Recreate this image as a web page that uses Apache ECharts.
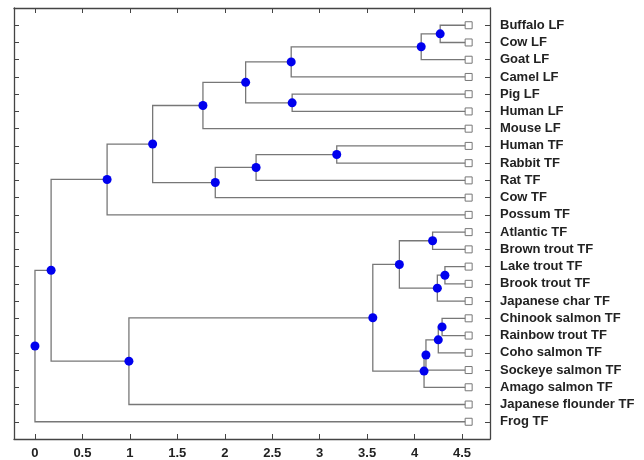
<!DOCTYPE html>
<html>
<head>
<meta charset="utf-8">
<script src="https://cdn.jsdelivr.net/npm/echarts@6/dist/echarts.min.js"></script>
<style>
  html, body { margin: 0; padding: 0; background: #fff; }
  #chart { width: 644px; height: 460px; }
</style>
</head>
<body>
<div id="chart"></div>
<script>
// leaf labels, top to bottom
var leaves = [
    'Buffalo LF', 'Cow LF', 'Goat LF', 'Camel LF', 'Pig LF', 'Human LF', 'Mouse LF',
    'Human TF', 'Rabbit TF', 'Rat TF', 'Cow TF', 'Possum TF',
    'Atlantic TF', 'Brown trout TF', 'Lake trout TF', 'Brook trout TF', 'Japanese char TF',
    'Chinook salmon TF', 'Rainbow trout TF', 'Coho salmon TF', 'Sockeye salmon TF',
    'Amago salmon TF', 'Japanese flounder TF', 'Frog TF'
];
var leafX = 4.57;

// merges: child A, child B (index < 24 = leaf, otherwise internal node 24 + k)
var childA = [0, 24, 25, 4, 26, 28, 7, 30, 31, 29, 33, 12, 14, 36, 35, 17, 39, 40, 41, 38, 43, 34, 45];
var childB = [1, 2, 3, 5, 27, 6, 8, 9, 10, 32, 11, 13, 15, 16, 37, 18, 19, 20, 21, 42, 22, 44, 23];
var height = [4.27, 4.07, 2.70, 2.71, 2.22, 1.77, 3.18, 2.33, 1.90, 1.24, 0.76,
              4.19, 4.32, 4.24, 3.84, 4.29, 4.25, 4.12, 4.10, 3.56, 0.99, 0.17, 0.00];

var xTicks = [0, 0.5, 1, 1.5, 2, 2.5, 3, 3.5, 4, 4.5];

// positions of every node: leaves on rows 1..24, internal nodes at mid of children
var nodeX = [], nodeY = [];
leaves.forEach(function (n, i) { nodeX.push(leafX); nodeY.push(i + 1); });
var links = [], dots = [];
for (var k = 0; k < childA.length; k++) {
    var a = childA[k], b = childB[k], h = height[k];
    var y = (nodeY[a] + nodeY[b]) / 2;
    nodeX.push(h);
    nodeY.push(y);
    links.push({ coords: [[nodeX[a], nodeY[a]], [h, nodeY[a]], [h, nodeY[b]], [nodeX[b], nodeY[b]]] });
    dots.push([h, y]);
}
var rows = leaves.map(function (n, i) { return i + 1; });

var frame = { show: true, onZero: false, lineStyle: { color: '#444', width: 1.3 } };
var tick = { show: true, inside: true, length: 5, lineStyle: { color: '#444' } };
var font = 'Liberation Sans, Arial';

var myChart = echarts.init(document.getElementById('chart'));
var option = {
    animation: false,
    grid: { left: 14, right: 154, top: 8, bottom: 19 },
    xAxis: [{
        type: 'value', min: -0.221, max: 4.795, position: 'bottom',
        splitLine: { show: false },
        axisLine: frame,
        axisTick: Object.assign({ customValues: xTicks }, tick),
        axisLabel: {
            customValues: xTicks, margin: 8,
            color: '#222', fontSize: 13, fontWeight: 'bold', fontFamily: font
        }
    }, {
        type: 'value', min: -0.221, max: 4.795, position: 'top',
        splitLine: { show: false },
        axisLine: frame,
        axisTick: Object.assign({ customValues: xTicks }, tick),
        axisLabel: { show: false }
    }],
    yAxis: [{
        type: 'value', min: 0, max: 25, inverse: true, position: 'left',
        splitLine: { show: false },
        axisLine: frame,
        axisTick: Object.assign({ customValues: rows }, tick),
        axisLabel: { show: false }
    }, {
        type: 'value', min: 0, max: 25, inverse: true, position: 'right',
        splitLine: { show: false },
        axisLine: frame,
        axisTick: Object.assign({ customValues: rows }, tick),
        axisLabel: {
            customValues: rows, margin: 10,
            color: '#222', fontSize: 13, fontWeight: 'bold', fontFamily: font,
            formatter: function (v) { return leaves[v - 1] || ''; }
        }
    }],
    series: [{
        type: 'lines',
        coordinateSystem: 'cartesian2d',
        polyline: true,
        silent: true,
        z: 1,
        lineStyle: { color: '#777', width: 1.3, opacity: 1 },
        data: links
    }, {
        type: 'scatter',
        z: 2,
        symbol: 'rect',
        symbolSize: 7,
        itemStyle: { color: '#fff', borderColor: '#777', borderWidth: 1, opacity: 1 },
        data: leaves.map(function (n, i) { return [leafX, i + 1]; })
    }, {
        type: 'scatter',
        z: 3,
        symbol: 'circle',
        symbolSize: 9,
        itemStyle: { color: '#0000ee', opacity: 1 },
        data: dots
    }]
};
myChart.setOption(option);
</script>
</body>
</html>
